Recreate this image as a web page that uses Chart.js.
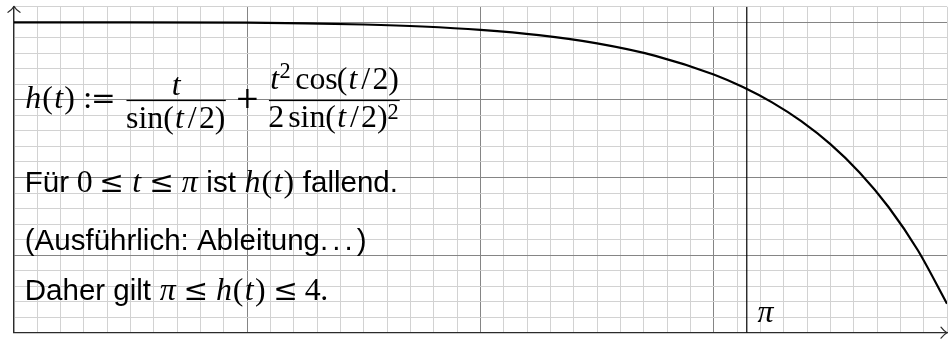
<!DOCTYPE html>
<html><head><meta charset="utf-8">
<script src="https://cdn.jsdelivr.net/npm/chart.js@4"></script>
<style>html,body{margin:0;padding:0;background:#fff;}canvas{display:block;}</style>
</head><body>
<canvas id="c" width="950" height="339"></canvas>
<script>
// ---- data ----
const tValues = [0, 0.5, 1, 1.25, 1.5, 1.75, 2, 2.25, 2.5, 2.75, 3, 3.125, 3.25, 3.375, 3.5, 3.625, 3.75, 3.875, 4];
const hValues = [4.0000, 3.9997, 3.9949, 3.9871, 3.9722, 3.9461, 3.9029, 3.8344, 3.7286, 3.5681, 3.3275, 3.1656, 2.9678, 2.7258, 2.4294, 2.0653, 1.6168, 1.0620, 0.3725];
const piMark = 3.14159;
const xRange = [0, 4];
const yRange = [0, 4.2];
const xStep = 0.1;
const yStep = 0.2;
const piLabel = "π";

// ---- text helpers ----
const EM = 29.5;
const MS = 1.08; // math glyph scale (Times glyphs are smaller than Computer Modern)
const FONTS = {
  sf: s => s + 'px "Liberation Sans", Arial, sans-serif',
  rm: s => s + 'px "Liberation Serif", "Times New Roman", serif',
  mi: s => 'italic ' + s + 'px "Liberation Serif", "Times New Roman", serif',
  sy: s => s + 'px "DejaVu Serif", serif'
};
const M = (t, w, o) => Object.assign({k: 'mi', t, w}, o || {});
const R = (t, w, o) => Object.assign({k: 'rm', t, w}, o || {});
const Y = (t, w, o) => Object.assign({k: 'sy', t, w}, o || {});
const S = t => ({k: 'sf', t});
const SP = w => ({k: 'sp', w});
const TH = SP(5 / 18), MED = SP(4 / 18), THIN = SP(1 / 6), WS = SP(0.278);
const NULLD = 0.12;

function tokWidth(ctx, tok) {
  if (tok.k === 'sp') return tok.w * EM;
  if (tok.k === 'sf') { ctx.font = FONTS.sf(EM); return ctx.measureText(tok.t).width; }
  return tok.w * EM;
}
function lineWidth(ctx, toks) { return toks.reduce((a, t) => a + tokWidth(ctx, t), 0); }
function drawToks(ctx, toks, x, y) {
  for (const tok of toks) {
    if (tok.k === 'sp') { x += tok.w * EM; continue; }
    if (tok.k === 'sf') {
      ctx.font = FONTS.sf(EM);
      ctx.fillText(tok.t, x, y);
      x += ctx.measureText(tok.t).width;
      continue;
    }
    const base = tok.k === 'sy' ? 1 : MS;
    const size = EM * base * (tok.scale || 1);
    ctx.font = FONTS[tok.k](size);
    const m = ctx.measureText(tok.t).width;
    const box = tok.w * EM;
    ctx.fillText(tok.t, x + (box - m) / 2, y - (tok.raise || 0));
    x += box;
  }
  return x;
}
function frac(ctx, x, num, den, numBase, denBase, barY) {
  const wn = lineWidth(ctx, num), wd = lineWidth(ctx, den);
  const w = Math.max(wn, wd);
  x += NULLD * EM;
  ctx.fillRect(x, barY - 0.6, w, 1.2);
  drawToks(ctx, num, x + (w - wn) / 2, numBase);
  drawToks(ctx, den, x + (w - wd) / 2, denBase);
  return x + w + NULLD * EM;
}
const hOfT = [M('h', .576), R('(', .389), M('t', .361), R(')', .389)];
const tOver2 = [R('(', .389), M('t', .361), R('/', .5), R('2', .5), R(')', .389)];
const sup2 = (raise) => [R('2', .35, {scale: .7, raise}), SP(.05)];
const LE = () => Y('≤', .778);

const textPlugin = {
  id: 'texts',
  afterDatasetsDraw(chart) {
    const ctx = chart.ctx;
    ctx.save();
    ctx.fillStyle = '#000';
    ctx.textAlign = 'left';
    ctx.textBaseline = 'alphabetic';
    const x0 = 24.8;
    // line 1: formula
    let x = drawToks(ctx, [...hOfT, TH, R(':', .278), Y('=', .778), TH], x0, 107.5);
    x = frac(ctx, x, [M('t', .361)], [R('sin', 1.228), ...tOver2], 95, 127.5, 100.5);
    x = drawToks(ctx, [MED, Y('+', .778), MED], x, 107.5);
    x = frac(ctx, x,
      [M('t', .361), ...sup2(10.7), THIN, R('cos', 1.338), ...tOver2],
      [R('2', .5), THIN, R('sin', 1.228), ...tOver2, ...sup2(8.5)],
      88.5, 127, 100.5);
    // line 2
    drawToks(ctx, [S('Für'), WS, R('0', .5), TH, LE(), TH, M('t', .361), TH, LE(), TH, M('π', .57),
      WS, S('ist'), WS, ...hOfT, WS, S('fallend.')], x0, 192.3);
    // line 3
    drawToks(ctx, [S('(Ausführlich: Ableitung'), S('.'), SP(.139), S('.'), SP(.139), S('.'), SP(.139), S(')')], x0, 250);
    // line 4
    drawToks(ctx, [S('Daher gilt'), WS, M('π', .57), TH, LE(), TH, ...hOfT, TH, LE(), TH, R('4', .5), R('.', .278)], x0, 300);
    // pi label
    const xs = chart.scales.x, ys = chart.scales.y;
    drawToks(ctx, [M(piLabel, .57)], xs.getPixelForValue(piMark) + 10.3, ys.getPixelForValue(yRange[0]) - 10.7);
    ctx.restore();
  },
  afterDraw(chart) {
    const ctx = chart.ctx, a = chart.chartArea;
    ctx.save();
    ctx.strokeStyle = '#2b2b2b';
    ctx.lineWidth = 1.2;
    ctx.lineCap = 'round';
    ctx.lineJoin = 'round';
    // y arrow
    ctx.beginPath();
    ctx.moveTo(a.left - 6, a.top + 5.5);
    ctx.quadraticCurveTo(a.left - 1.5, a.top + 2.5, a.left, a.top - 0.5);
    ctx.quadraticCurveTo(a.left + 1.5, a.top + 2.5, a.left + 6, a.top + 5.5);
    ctx.stroke();
    // x arrow
    ctx.beginPath();
    ctx.moveTo(a.right - 6, a.bottom - 5.5);
    ctx.quadraticCurveTo(a.right - 3, a.bottom - 1.5, a.right, a.bottom);
    ctx.quadraticCurveTo(a.right - 3, a.bottom + 1.5, a.right - 6, a.bottom + 5.5);
    ctx.stroke();
    ctx.restore();
  }
};

const isInt = v => Math.abs(v - Math.round(v)) < 1e-6;
const MAJOR = '#858585', MINOR = '#d2d2d2';

new Chart(document.getElementById('c'), {
  type: 'scatter',
  data: {
    datasets: [
      {
        data: tValues.map((t, i) => ({x: t, y: hValues[i]})),
        showLine: true, borderColor: '#000', borderWidth: 2.2, pointRadius: 0,
        cubicInterpolationMode: 'monotone', fill: false
      },
      {
        data: [{x: piMark, y: yRange[0]}, {x: piMark, y: yRange[1]}],
        showLine: true, borderColor: '#000', borderWidth: 1.2, pointRadius: 0, fill: false
      }
    ]
  },
  options: {
    responsive: false, animation: false, devicePixelRatio: 1,
    layout: {padding: {left: 14, right: 3, top: 6.8, bottom: 6.3}},
    plugins: {legend: {display: false}, tooltip: {enabled: false}},
    scales: {
      x: {
        type: 'linear', min: xRange[0], max: xRange[1],
        ticks: {display: false, stepSize: xStep, autoSkip: false, maxTicksLimit: 1000},
        grid: {drawTicks: false, lineWidth: 1,
          color: c => (isInt(c.tick.value) && c.tick.value > xRange[0] && c.tick.value < xRange[1]) ? MAJOR : MINOR},
        border: {display: true, color: '#2b2b2b', width: 1.3}
      },
      y: {
        type: 'linear', min: yRange[0], max: yRange[1],
        ticks: {display: false, stepSize: yStep, autoSkip: false, maxTicksLimit: 1000},
        grid: {drawTicks: false, lineWidth: 1,
          color: c => (isInt(c.tick.value) && c.tick.value > yRange[0]) ? MAJOR : MINOR},
        border: {display: true, color: '#2b2b2b', width: 1.3}
      }
    }
  },
  plugins: [textPlugin]
});
</script>
</body></html>
